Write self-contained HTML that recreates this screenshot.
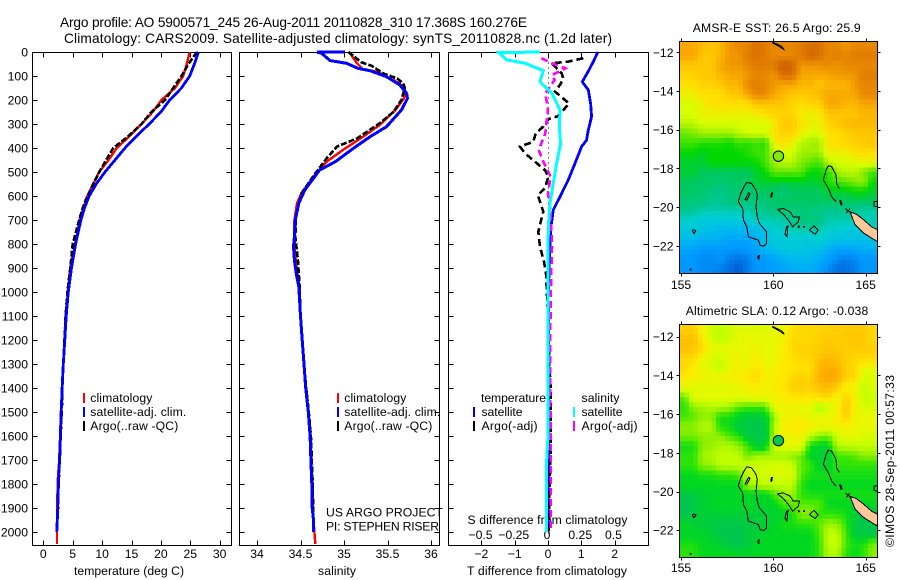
<!DOCTYPE html>
<html>
<head>
<meta charset="utf-8">
<title>Argo profile chart</title>
<style>
html,body{margin:0;padding:0;background:#fff;}
svg{display:block;}
text{font-family:"Liberation Sans",sans-serif;fill:#000;font-size:12.2px;}
</style>
</head>
<body>
<svg id="chart" xmlns="http://www.w3.org/2000/svg" width="900" height="580" viewBox="0 0 900 580">
<rect width="900" height="580" fill="#fff"/>
<text x="60" y="27" style="font-size:13.7px" textLength="467" lengthAdjust="spacing">Argo profile: AO 5900571_245 26-Aug-2011 20110828_310 17.368S 160.276E</text>
<text x="64" y="43" style="font-size:13.7px" textLength="548" lengthAdjust="spacing">Climatology: CARS2009. Satellite-adjusted climatology: synTS_20110828.nc (1.2d later)</text>
<text x="74" y="575" textLength="110" lengthAdjust="spacing">temperature (deg C)</text>
<text x="318" y="575" textLength="38" lengthAdjust="spacing">salinity</text>
<text x="467" y="575" textLength="160" lengthAdjust="spacing">T difference from climatology</text>
<text x="467.5" y="524" textLength="160" lengthAdjust="spacing">S difference from climatology</text>
<text x="326" y="516.5" textLength="117" lengthAdjust="spacing">US ARGO PROJECT</text>
<text x="326" y="530.5" textLength="113" lengthAdjust="spacing">PI: STEPHEN RISER</text>
<rect x="83" y="393" width="2" height="10" fill="#f00"/>
<rect x="83" y="407" width="2" height="10" fill="#00f"/>
<rect x="83" y="421" width="2" height="10" fill="#000"/>
<text x="90.3" y="402" textLength="62" lengthAdjust="spacing">climatology</text>
<text x="90.3" y="416" textLength="96" lengthAdjust="spacing">satellite-adj. clim.</text>
<text x="90.3" y="430" textLength="88" lengthAdjust="spacing">Argo(..raw -QC)</text>
<rect x="337" y="393" width="2" height="10" fill="#f00"/>
<rect x="337" y="407" width="2" height="10" fill="#00f"/>
<rect x="337" y="421" width="2" height="10" fill="#000"/>
<text x="344.3" y="402" textLength="62" lengthAdjust="spacing">climatology</text>
<text x="344.3" y="416" textLength="96" lengthAdjust="spacing">satellite-adj. clim.</text>
<text x="344.3" y="430" textLength="88" lengthAdjust="spacing">Argo(..raw -QC)</text>
<text x="481" y="402" textLength="65" lengthAdjust="spacing">temperature</text>
<text x="581.5" y="402" textLength="38" lengthAdjust="spacing">salinity</text>
<rect x="473" y="407" width="2" height="10" fill="#00f"/>
<rect x="473" y="421" width="2" height="10" fill="#000"/>
<rect x="573" y="407" width="2" height="10" fill="#0ff"/>
<rect x="573" y="421" width="2" height="10" fill="#f0f"/>
<text x="481.5" y="416" textLength="41" lengthAdjust="spacing">satellite</text>
<text x="481.5" y="430" textLength="56" lengthAdjust="spacing">Argo(-adj)</text>
<text x="581.5" y="416" textLength="41" lengthAdjust="spacing">satellite</text>
<text x="581.5" y="430" textLength="56" lengthAdjust="spacing">Argo(-adj)</text>
<text x="692.7" y="32" textLength="168" lengthAdjust="spacing">AMSR-E SST: 26.5 Argo: 25.9</text>
<text x="685.7" y="315" textLength="182.6" lengthAdjust="spacing">Altimetric SLA: 0.12 Argo: -0.038</text>
<text transform="translate(894,547) rotate(-90)" textLength="172" lengthAdjust="spacing">©IMOS 28-Sep-2011 00:57:33</text>
<defs>
<clipPath id="clip-sst"><rect x="680" y="41" width="197.5" height="232"/></clipPath>
<clipPath id="clip-sla"><rect x="680" y="324" width="197.5" height="233"/></clipPath>
</defs>
</svg>
<script>
/* ---------- axis ticks ---------- */
const depthTicks = [0,100,200,300,400,500,600,700,800,900,1000,1100,1200,1300,1400,1500,1600,1700,1800,1900,2000];
const tempTicks = [0,5,10,15,20,25,30];
const salTicks = [34,34.5,35,35.5,36];
const salTickLabels = ['34','34.5','35','35.5','36'];
const tDiffTicks = [-2,-1,0,1,2];
const tDiffLabels = ['\u22122','\u22121','0','1','2'];
const sDiffTicks = [-0.5,-0.25,0,0.25,0.5];
const sDiffLabels = ['\u22120.5','\u22120.25','0','0.25','0.5'];
const lonTicks = [155,160,165];
const latTicks = [-12,-14,-16,-18,-20,-22];

/* ---------- temperature panel ---------- */
const tempDepths = [0,50,100,150,200,250,300,350,400,450,500,550,600,650,700,800,900,1000,1100,1200,1300,1400,1500,1600,1700,1800,1900,2000,2050];
const tempClim = [24.9,24.4,23.8,22.4,20.1,18.6,16.7,14.7,12.5,11.1,9.5,8.5,7.5,6.8,6.2,5.4,4.6,4.2,3.8,3.6,3.4,3.2,3.0,2.85,2.7,2.42,2.4,2.33,2.33];
const tempArgo = [26.1,24.7,23.5,22.1,20.7,18.4,16.7,14.5,11.9,10.7,9.5,8.5,7.5,6.7,6.1,5.0,4.6,4.1,3.8,3.6,3.4,3.25,3.15,2.95,2.8,2.6,2.5,2.3];
const tempSat = [26.4,25.7,24.9,23.5,21.5,20.0,18.0,15.9,13.9,12.2,10.5,9.0,7.8,7.0,6.4,5.5,4.8,4.25,3.9,3.65,3.4,3.2,3.05,2.9,2.75,2.55,2.45,2.3];

/* ---------- salinity panel ---------- */
const salClimDepths = [0,47,72,82,110,131,165,193,242,304,353,408,457,519,589,630,700,770,853,936,985,1100,1200,1300,1400,1500,1600,1700,1800,1900,2000,2050];
const salClim = [35.06,35.15,35.22,35.38,35.53,35.64,35.71,35.69,35.59,35.41,35.22,34.99,34.8,34.65,34.51,34.46,34.43,34.43,34.44,34.47,34.49,34.5,34.52,34.54,34.56,34.59,34.61,34.62,34.64,34.64,34.66,34.67];
const salArgoDepths = [0,43,58,89,110,131,151,200,249,297,360,394,443,506,589,672,770,867,978,1100,1200,1300,1400,1500,1600,1700,1800,1900,2000];
const salArgo = [35.05,35.2,35.32,35.45,35.61,35.68,35.7,35.66,35.57,35.41,35.15,34.92,34.8,34.67,34.51,34.45,34.44,34.47,34.49,34.5,34.52,34.54,34.565,34.595,34.62,34.63,34.64,34.645,34.65];
const salSatDepths = [0,1,5,36,47,68,78,103,137,172,193,242,311,353,401,457,492,575,630,700,770,811,867,922,978,1100,1200,1300,1400,1500,1600,1700,1800,1900,1950,2000];
const salSat = [35.01,34.69,34.74,34.84,35.03,35.16,35.30,35.49,35.64,35.72,35.73,35.66,35.49,35.30,35.11,34.90,34.72,34.55,34.48,34.44,34.43,34.42,34.43,34.45,34.48,34.5,34.52,34.54,34.56,34.59,34.61,34.62,34.63,34.635,34.65,34.65];

/* ---------- difference panel ---------- */
const dTSatDepths = [0,5,40,75,124,158,214,269,325,367,394,464,533,603,658,728,811,922,1019,1200,1400,1600,1800,2000];
const dTSat = [1.5,1.48,1.36,1.23,1.03,1.21,1.28,1.31,1.21,1.16,1.01,0.81,0.61,0.36,0.16,0.09,0.06,0.03,0.01,0.02,0.02,0.02,0.01,0.01];
const dTArgoDepths = [26,40,47,89,110,137,165,214,267,280,311,339,374,394,422,457,492,519,568,596,665,749,811,874,922,985,1100,1300,1400,1500,1650,1800,2000];
const dTArgo = [1.06,0.61,0.11,0.41,0.46,0.36,0.21,0.63,0.31,0.01,-0.14,-0.37,-0.44,-0.84,-0.69,-0.39,-0.09,0.01,-0.09,-0.31,-0.14,-0.29,-0.24,-0.12,-0.06,-0.04,0.0,0.04,0.08,0.08,0.08,0.05,0.02];
const dSSatDepths = [0,3,8,33,47,78,124,172,242,311,381,464,547,631,728,1019,1300,1600,1700,2000];
const dSSat = [-0.06,-0.37,-0.36,-0.31,-0.17,-0.035,-0.06,0.03,0.09,0.085,0.095,0.065,0.04,0.015,0.0025,0.0,0.0,0.0,-0.01,-0.01];
const dSArgoDepths = [26,47,68,96,117,172,242,339,408,457,519,589,672,811,1019,1300,1600,2000];
const dSArgo = [-0.05,0.03,0.13,0.03,0.05,-0.02,0.0,-0.02,-0.07,-0.035,0.02,0.0,0.02,0.03,0.02,0.015,0.02,0.02];

/* ---------- map fields: 22 columns west to east, 24 rows north to south ---------- */
const sstGrid = [
[26.8,26.8,26.7,26.6,26.7,26.9,27.0,27.0,27.2,27.1,27.0,27.0,27.0,27.1,27.2,27.2,27.0,27.0,26.9,27.0,27.0,27.0],
[26.8,26.8,26.6,26.6,26.7,26.9,26.9,27.1,27.2,27.1,27.0,27.0,27.0,27.1,27.3,27.2,27.0,27.1,27.0,27.1,27.1,27.1],
[26.6,26.6,26.6,26.6,26.8,26.9,26.9,27.0,27.1,27.1,27.1,27.4,27.3,26.9,26.9,26.9,27.0,26.9,27.0,27.0,27.0,27.0],
[26.5,26.5,26.6,26.6,26.7,26.8,26.8,26.9,27.0,27.0,26.9,27.2,27.2,26.8,26.8,26.8,26.8,26.9,26.9,26.9,27.1,27.1],
[26.4,26.4,26.5,26.5,26.6,26.7,26.7,27.0,27.1,27.0,26.9,26.8,26.8,26.7,26.7,26.6,26.7,26.7,26.7,26.9,27.0,27.0],
[26.3,26.3,26.4,26.4,26.4,26.6,26.6,26.8,27.0,27.0,26.8,26.7,26.6,26.6,26.6,26.7,26.8,26.8,26.8,26.8,27.0,27.0],
[26.2,26.2,26.3,26.4,26.4,26.4,26.4,26.4,26.6,26.6,26.6,26.6,26.5,26.4,26.5,26.5,26.8,26.8,26.7,26.7,26.8,26.8],
[26.2,26.2,26.3,26.3,26.3,26.3,26.3,26.3,26.3,26.4,26.5,26.5,26.5,26.3,26.3,26.3,26.6,26.6,26.6,26.6,26.7,26.7],
[26.1,26.1,26.2,26.2,26.2,26.2,26.2,26.2,26.2,26.2,26.3,26.6,26.6,26.4,26.3,26.3,26.5,26.6,26.7,26.7,26.7,26.7],
[25.8,25.9,26.0,26.0,26.0,26.0,26.1,26.2,26.2,26.2,26.4,26.5,26.5,26.3,26.2,26.2,26.4,26.4,26.5,26.6,26.6,26.6],
[25.7,25.7,25.6,25.6,25.6,25.5,25.7,25.6,25.7,25.6,26.3,26.4,26.3,26.1,26.0,26.0,26.4,26.4,26.5,26.5,26.6,26.6],
[25.5,25.5,25.4,25.5,25.5,25.5,25.5,25.6,25.7,25.7,26.1,26.2,26.2,26.0,26.0,26.0,26.3,26.3,26.3,26.4,26.4,26.4],
[25.4,25.4,25.4,25.5,25.5,25.5,25.5,25.5,25.5,25.7,26.0,26.1,26.1,25.9,25.8,25.7,26.1,26.2,26.2,26.2,26.3,26.3],
[25.4,25.4,25.3,25.3,25.3,25.3,25.3,25.3,25.4,25.5,25.8,25.8,25.8,25.8,25.5,25.5,25.6,26.0,26.1,26.1,25.9,25.7],
[25.3,25.3,25.3,25.3,25.2,25.3,25.3,25.3,25.4,25.4,25.4,25.4,25.4,25.4,25.4,25.4,25.6,25.7,25.8,25.9,26.0,25.5],
[25.3,25.3,25.2,25.2,25.1,25.2,25.2,25.2,25.3,25.3,25.3,25.2,25.3,25.3,25.3,25.3,25.4,25.4,25.4,25.5,25.5,25.4],
[25.2,25.2,25.2,25.1,25.1,25.2,25.2,25.2,25.2,25.2,25.3,25.3,25.3,25.3,25.3,25.3,25.3,25.3,25.3,25.3,25.3,25.3],
[25.1,25.1,25.0,25.0,25.0,25.0,25.0,25.0,25.1,25.1,25.2,25.2,25.2,25.2,25.2,25.1,25.1,25.1,25.1,25.1,25.0,25.0],
[24.9,24.9,24.8,24.8,24.8,24.8,24.8,24.8,25.0,25.0,25.0,25.0,25.1,25.2,25.2,25.2,25.0,25.0,25.0,25.0,25.0,25.0],
[24.8,24.8,24.7,24.7,24.6,24.6,24.6,24.6,24.6,24.7,24.9,24.9,25.0,25.0,25.0,25.0,24.9,24.9,24.8,24.8,24.8,24.9],
[24.6,24.6,24.5,24.5,24.5,24.4,24.4,24.4,24.5,24.7,24.8,24.8,24.8,24.8,24.8,24.9,24.8,24.7,24.7,24.7,24.7,24.7],
[24.4,24.4,24.3,24.3,24.3,24.3,24.3,24.3,24.4,24.6,24.7,24.8,24.8,24.8,24.7,24.7,24.5,24.4,24.4,24.4,24.5,24.5],
[24.3,24.3,24.2,24.2,24.3,24.1,24.0,24.1,24.3,24.3,24.4,24.5,24.6,24.6,24.6,24.5,24.4,24.2,24.1,24.2,24.3,24.3],
[24.3,24.3,24.2,24.2,24.1,24.0,23.9,24.1,24.3,24.3,24.4,24.4,24.5,24.5,24.5,24.4,24.2,24.0,24.0,24.1,24.3,24.3]
];
const slaGrid = [
[.18,.18,.13,.10,.09,.10,.11,.11,.11,.11,.12,.12,.16,.17,.17,.17,.18,.18,.19,.19,.19,.17],
[.21,.21,.15,.10,.09,.10,.12,.12,.12,.12,.12,.13,.17,.17,.17,.18,.19,.19,.19,.20,.19,.17],
[.21,.19,.17,.12,.12,.12,.12,.12,.13,.12,.12,.14,.17,.18,.18,.18,.20,.19,.19,.19,.19,.18],
[.17,.17,.12,.11,.10,.12,.13,.12,.14,.12,.12,.14,.16,.17,.17,.20,.22,.21,.18,.17,.17,.17],
[.17,.14,.12,.11,.09,.12,.14,.13,.16,.13,.13,.15,.15,.16,.16,.22,.24,.23,.18,.17,.12,.12],
[.15,.14,.13,.13,.13,.14,.14,.15,.17,.14,.14,.15,.17,.18,.17,.23,.25,.24,.18,.17,.11,.11],
[.12,.11,.11,.11,.11,.11,.12,.13,.14,.13,.14,.15,.18,.18,.18,.20,.22,.18,.13,.13,.09,.11],
[.04,.12,.12,.12,.12,.12,.12,.12,.13,.13,.13,.14,.15,.16,.15,.16,.17,.12,.18,.14,.09,.10],
[.02,.06,.07,.08,.08,.07,.04,.03,.03,.03,.12,.13,.13,.12,.12,.07,.10,.13,.19,.13,.11,.11],
[.03,.04,.06,.06,.01,.01,-.01,-.03,-.03,-.02,.06,.13,.13,.13,.12,.12,.12,.14,.18,.13,.12,.12],
[.06,.06,.08,.08,.01,.01,-.03,-.04,-.04,-.04,.08,.14,.15,.15,.14,.13,.13,.13,.14,.12,.12,.12],
[.05,.05,.06,.06,.06,.03,.02,-.03,-.04,-.04,.08,.13,.13,.13,.09,.06,.05,.10,.12,.12,.11,.11],
[.01,.01,.06,.06,.08,.08,.06,.03,-.02,-.02,.10,.12,.12,.12,.01,-.01,-.01,.08,.09,.09,.09,.09],
[.02,.02,.07,.08,.09,.09,.09,.04,.07,.07,.07,.07,.06,.05,-.01,-.02,-.02,.03,.03,.04,.06,.06],
[.02,.02,.06,.06,.09,.09,.09,.10,.10,.10,.11,.11,.10,.04,.03,-.01,-.01,.02,.02,.02,.02,.02],
[.00,.00,.01,.01,.02,.02,.03,.09,.10,.10,.11,.11,.11,.04,.01,.01,.01,.01,.01,.01,.01,.01],
[.00,.00,.00,.00,.00,.00,.00,.07,.08,.09,.09,.09,.09,.02,.00,.00,.00,.00,.00,.00,.00,.00],
[-.04,-.03,-.02,-.01,-.01,-.01,-.01,-.01,-.01,-.01,.03,.06,.07,.02,.01,.01,.01,.01,.01,.01,.01,.01],
[-.05,-.04,-.02,-.01,.00,.00,.00,.00,-.01,-.01,-.01,.03,.04,.04,.04,.04,.00,.00,.00,.00,.00,.00],
[-.05,-.03,-.02,-.02,-.02,-.02,-.02,-.02,-.02,-.02,-.01,-.01,.01,.06,.06,.02,.02,.02,.01,-.02,-.04,-.04],
[.00,-.02,-.03,-.03,-.04,-.04,-.04,-.03,-.03,-.02,-.01,.01,.01,.02,.02,.04,.07,.06,.02,-.03,-.04,-.04],
[-.01,-.01,-.01,-.02,-.05,-.05,-.05,-.03,-.02,-.01,.00,.00,.00,.00,.00,.03,.09,.09,.03,-.03,-.04,-.04],
[.01,.01,.00,-.01,-.02,-.04,-.05,-.03,-.01,.00,.00,.00,.00,.00,.00,.02,.09,.10,.03,.01,.01,.05],
[.02,.02,.00,.00,.00,.00,-.01,-.01,.00,.00,.00,.00,.00,.00,.00,.02,.08,.08,.02,.00,.02,.06]
];
const sstArgoValue = 25.9;
const slaArgoValue = -0.038;
const argoLon = 160.276;
const argoLat = -17.368;

/* colour scales: value / colour pairs */
const sstScaleValues = [23.9,24.0,24.3,24.6,24.9,25.1,25.3,25.5,25.8,26.0,26.2,26.4,26.6,26.8,27.0,27.2,27.4];
const sstScaleColors = ['#0058d8','#0070e4','#0098ff','#00b8f0','#00d0d0','#00c890','#00c860','#00d800','#60e800','#a0f000','#d8ff00','#ffe000','#ffc800','#f8a800','#e88800','#d87000','#d05800'];
const slaScaleValues = [-0.08,-0.04,0,0.03,0.06,0.09,0.12,0.15,0.18,0.22,0.26];
const slaScaleColors = ['#00b868','#00c848','#00d820','#40e800','#90f000','#c0ff00','#e8f800','#ffe800','#ffd000','#ffb800','#f8a000'];

/* coastline vertices, lon/lat pairs */
const coastIslandA = [[158.56,-18.72],[158.83,-18.78],[159.06,-19.12],[159.13,-19.38],[159.06,-19.98],[159.13,-20.5],[159.24,-20.84],[159.64,-21.28],[159.64,-21.88],[159.49,-22.02],[159.28,-21.97],[159.19,-21.71],[158.65,-21.53],[158.56,-21.02],[158.38,-20.67],[158.34,-20.07],[158.1,-19.72],[158.23,-19.29],[158.41,-18.95],[158.56,-18.72]];
const coastLagoon = [[158.56,-19.64],[158.73,-19.33],[158.66,-19.26],[158.47,-19.61],[158.56,-19.64]];
const coastIslandB = [[163.39,-19.72],[163.16,-19.47],[162.98,-19.03],[162.71,-18.6],[162.85,-18.09],[162.98,-17.86],[163.16,-17.91],[163.39,-18.34],[163.43,-18.78],[163.57,-19.03]];
const coastIslandC = [[160.22,-20.12],[160.54,-20.07],[160.9,-20.24],[161.08,-20.5],[161.41,-20.5],[161.35,-20.76],[161.05,-21.02],[160.81,-20.67],[160.54,-20.36],[160.22,-20.12]];
const coastIslandD = [[160.72,-21.02],[160.79,-20.98],[160.74,-21.53],[160.63,-21.4],[160.72,-21.02]];
const coastDiamond = [[162.2,-20.97],[162.43,-21.19],[162.26,-21.4],[161.95,-21.19],[162.2,-20.97]];
const coastWest = [[155.67,-21.16],[155.81,-21.22],[155.7,-21.36],[155.61,-21.22],[155.67,-21.16]];
const coastNorth = [[159.93,-11.5],[160.27,-11.67],[160.6,-11.88],[160.45,-11.7],[159.96,-11.47]];
const coastEast = [[165.78,-19.72],[165.45,-19.72],[165.45,-19.95],[165.78,-20.02]];
const reefA = [[159.93,-19.25],[159.88,-19.5]];
const reefB = [[159.22,-22.48],[159.19,-22.7]];
const reefC = [[163.61,-19.64],[163.7,-19.9]];
const reefD = [[161.33,-21.04],[161.42,-21.0]];
const reefE = [[161.65,-20.98],[161.67,-21.06]];
const reefF = [[155.47,-23.2],[155.57,-23.24]];
const reefG = [[163.9,-20.08],[164.22,-20.33]];
const reefH = [[164.15,-20.08],[163.95,-20.3]];
const landMainland = [[164.15,-20.25],[164.48,-20.36],[164.87,-20.64],[165.32,-21.02],[165.78,-21.24],[165.78,-21.86],[165.38,-21.64],[164.87,-21.33],[164.42,-20.9],[164.15,-20.25]];

/* ---------- axis functions ---------- */
const depthY = d => 52 + 0.24 * d;
const tempX = t => 43.3 + 5.88 * t;
const salX = s => 257 + 87 * (s - 34);
const tDiffX = t => 548 + 33.3 * t;
const sDiffX = s => 548 + 133 * s;
const lonX = lon => 681 + 18.47 * (lon - 155);
const sstLatY = lat => 52.3 + 19.35 * (-12 - lat);
const slaLatY = lat => 336.7 + 19.35 * (-12 - lat);

const svg = document.getElementById('chart');
const SVGNS = 'http://www.w3.org/2000/svg';
function make(tag, attrs) {
  const n = document.createElementNS(SVGNS, tag);
  for (const k in attrs) n.setAttribute(k, attrs[k]);
  svg.appendChild(n);
  return n;
}
function line(x1, y1, x2, y2) {
  return make('line', {x1, y1, x2, y2, stroke:'#000', 'stroke-width':1, 'shape-rendering':'crispEdges'});
}
function label(x, y, str, anchor) {
  const t = make('text', {x, y, 'text-anchor':anchor});
  t.textContent = str;
  return t;
}
function colorFor(v, values, colors) {
  if (v <= values[0]) return colors[0];
  for (let i = 1; i < values.length; i++) {
    if (v <= values[i]) {
      const f = (v - values[i-1]) / (values[i] - values[i-1]);
      const a = parseInt(colors[i-1].slice(1), 16), b = parseInt(colors[i].slice(1), 16);
      const mix = s => Math.round(((a >> s) & 255) * (1 - f) + ((b >> s) & 255) * f);
      return 'rgb(' + mix(16) + ',' + mix(8) + ',' + mix(0) + ')';
    }
  }
  return colors[colors.length - 1];
}
function profile(depths, values, xFn, color, width, dash, name) {
  const pts = [];
  const count = Math.min(depths.length, values.length);
  for (let i = 0; i < count; i++) pts.push(xFn(values[i]).toFixed(1) + ',' + depthY(depths[i]).toFixed(1));
  const attrs = {points: pts.join(' '), fill:'none', stroke:color, 'stroke-width':width, 'shape-rendering':'crispEdges'};
  if (dash) attrs['stroke-dasharray'] = dash;
  const p = make('polyline', attrs);
  
  
}

/* ---------- profile panels ---------- */
const panelLefts = [32.5, 239.5, 448.5];
const panelRights = [231.5, 439.5, 648.5];
const panelNames = ['temperature-panel', 'salinity-panel', 'difference-panel'];
const panelTop = 52.5, panelBottom = 545.5;
panelLefts.forEach((left, i) => {
  const right = panelRights[i];
  const frame = make('rect', {x:left, y:panelTop, width:right-left, height:panelBottom-panelTop, fill:'none', stroke:'#000', 'stroke-width':1, 'shape-rendering':'crispEdges'});
  
  
  depthTicks.forEach(d => {
    const y = Math.round(depthY(d)) + 0.5;
    const a = line(left, y, left + 5, y);
    
    
    const b = line(right - 5, y, right, y);
    
    
  });
});
depthTicks.forEach(d => {
  const t = label(28, depthY(d) + 4.5, String(d), 'end');
  
  
});
function xTicks(ticks, labels, xFn, labelY, name) {
  ticks.forEach((v, i) => {
    const x = Math.round(xFn(v)) + 0.5;
    const top = line(x, panelTop, x, panelTop + 5);
    
    
    const bot = line(x, panelBottom - 5, x, panelBottom);
    
    
    const t = label(xFn(v), labelY, labels[i], 'middle');
    
    
  });
}
xTicks(tempTicks, tempTicks.map(String), tempX, 558, 'temperature');
xTicks(salTicks, salTickLabels, salX, 558, 'salinity');
xTicks(tDiffTicks, tDiffLabels, tDiffX, 558, 't-difference');
sDiffTicks.forEach((v, i) => {
  const t = label(sDiffX(v) - 1, 539, sDiffLabels[i], 'middle');
  
  
});

profile(tempDepths, tempClim, tempX, '#f00', 2.4, null, 'temperature-climatology-line');
profile(tempDepths, tempArgo, tempX, '#000', 2.6, '6 2', 'temperature-argo-line');
profile(tempDepths, tempSat, tempX, '#00f', 2.8, null, 'temperature-satellite-line');

profile(salClimDepths, salClim, salX, '#f00', 2.4, null, 'salinity-climatology-line');
profile(salArgoDepths, salArgo, salX, '#000', 2.6, '6 2', 'salinity-argo-line');
profile(salSatDepths, salSat, salX, '#00f', 3, null, 'salinity-satellite-line');

const zeroLine = make('line', {x1:548.5, y1:52.5, x2:548.5, y2:545.5, stroke:'#000', 'stroke-width':1, 'stroke-dasharray':'1 4', 'shape-rendering':'crispEdges'});


profile(dTSatDepths, dTSat, tDiffX, '#00f', 2.8, null, 'temp-difference-satellite-line');
profile(dTArgoDepths, dTArgo, tDiffX, '#000', 2.6, '7 4', 'temp-difference-argo-line');
profile(dSArgoDepths, dSArgo, sDiffX, '#f0f', 2.6, '7 4', 'salinity-difference-argo-line');
profile(dSSatDepths, dSSat, sDiffX, '#0ff', 3, null, 'salinity-difference-satellite-line');

/* ---------- maps ---------- */
const mapLonMin = 154.95, mapLonMax = 165.62;
const cellSubdivisions = 2;
function sampleGrid(grid, fr, fc) {
  const r0 = Math.max(0, Math.min(grid.length - 1, Math.floor(fr)));
  const r1 = Math.min(grid.length - 1, r0 + 1);
  const c0 = Math.max(0, Math.min(grid[0].length - 1, Math.floor(fc)));
  const c1 = Math.min(grid[0].length - 1, c0 + 1);
  const tr = Math.max(0, Math.min(1, fr - r0)), tc = Math.max(0, Math.min(1, fc - c0));
  const top = grid[r0][c0] * (1 - tc) + grid[r0][c1] * tc;
  const bot = grid[r1][c0] * (1 - tc) + grid[r1][c1] * tc;
  return top * (1 - tr) + bot * tr;
}
function drawMap(grid, latY, latMin, latMax, scaleV, scaleC, argoV, clipId, name, boxTop, boxBottom, lonLabelY) {
  const group = make('g', {'clip-path':'url(#' + clipId + ')'});
  
  
  const n = cellSubdivisions;
  const nRows = grid.length * n, nCols = grid[0].length * n;
  const dLon = (mapLonMax - mapLonMin) / nCols, dLat = (latMax - latMin) / nRows;
  for (let r = 0; r < nRows; r++) {
    for (let c = 0; c < nCols; c++) {
      const v = sampleGrid(grid, (r + 0.5) / n - 0.5, (c + 0.5) / n - 0.5);
      const x0 = lonX(mapLonMin + c * dLon), x1 = lonX(mapLonMin + (c + 1) * dLon);
      const y0 = latY(latMax - r * dLat), y1 = latY(latMax - (r + 1) * dLat);
      const cell = document.createElementNS(SVGNS, 'rect');
      cell.setAttribute('x', x0.toFixed(2));
      cell.setAttribute('y', y0.toFixed(2));
      cell.setAttribute('width', (x1 - x0 + 0.5).toFixed(2));
      cell.setAttribute('height', (y1 - y0 + 0.5).toFixed(2));
      cell.setAttribute('fill', colorFor(v, scaleV, scaleC));
      cell.setAttribute('shape-rendering', 'crispEdges');
      
      
      group.appendChild(cell);
    }
  }
  const pts = arr => arr.map(p => lonX(p[0]).toFixed(1) + ',' + latY(p[1]).toFixed(1)).join(' ');
  const land = document.createElementNS(SVGNS, 'polygon');
  land.setAttribute('points', pts(landMainland));
  land.setAttribute('fill', '#ffc89b');
  land.setAttribute('stroke', '#000');
  land.setAttribute('shape-rendering', 'crispEdges');
  
  
  group.appendChild(land);
  [coastIslandA, coastLagoon, coastIslandB, coastIslandC, coastIslandD, coastDiamond, coastWest, coastNorth, coastEast].forEach(arr => {
    const pl = document.createElementNS(SVGNS, 'polyline');
    pl.setAttribute('points', pts(arr));
    pl.setAttribute('fill', 'none');
    pl.setAttribute('stroke', '#000');
    pl.setAttribute('shape-rendering', 'crispEdges');
    
    
    group.appendChild(pl);
  });
  [reefA, reefB, reefC, reefD, reefE, reefF].forEach(arr => {
    const pl = document.createElementNS(SVGNS, 'polyline');
    pl.setAttribute('points', pts(arr));
    pl.setAttribute('fill', 'none');
    pl.setAttribute('stroke', '#000');
    pl.setAttribute('stroke-width', '2');
    pl.setAttribute('shape-rendering', 'crispEdges');
    
    
    group.appendChild(pl);
  });
  [reefG, reefH].forEach(arr => {
    const pl = document.createElementNS(SVGNS, 'polyline');
    pl.setAttribute('points', pts(arr));
    pl.setAttribute('fill', 'none');
    pl.setAttribute('stroke', '#000');
    pl.setAttribute('stroke-width', '1');
    pl.setAttribute('shape-rendering', 'crispEdges');
    
    
    group.appendChild(pl);
  });
  const marker = make('circle', {cx:lonX(argoLon), cy:latY(argoLat), r:5.2, fill:colorFor(argoV, scaleV, scaleC), stroke:'#000', 'stroke-width':1});
  
  
  const frame = make('rect', {x:679.5, y:boxTop, width:198, height:boxBottom-boxTop, fill:'none', stroke:'#000', 'stroke-width':1, 'shape-rendering':'crispEdges'});
  
  
  lonTicks.forEach(lon => {
    const x = Math.round(lonX(lon)) + 0.5;
    const a = line(x, boxTop - 3, x, boxTop);
    
    
    const b = line(x, boxBottom, x, boxBottom + 3);
    
    
    const t = label(lonX(lon), lonLabelY, String(lon), 'middle');
    
    
  });
  latTicks.forEach(lat => {
    const y = Math.round(latY(lat)) + 0.5;
    const a = line(676.5, y, 679.5, y);
    
    
    const b = line(877.5, y, 880.5, y);
    
    
    const t = label(673.5, latY(lat) + 4.5, '\u2212' + Math.abs(lat), 'end');
    
    
  });
}
drawMap(sstGrid, sstLatY, -23.45, -11.43, sstScaleValues, sstScaleColors, sstArgoValue, 'clip-sst', 'sst-map', 41.5, 273.5, 289);
drawMap(slaGrid, slaLatY, -23.43, -11.36, slaScaleValues, slaScaleColors, slaArgoValue, 'clip-sla', 'sla-map', 324.5, 557.5, 572);
</script>
</body>
</html>
